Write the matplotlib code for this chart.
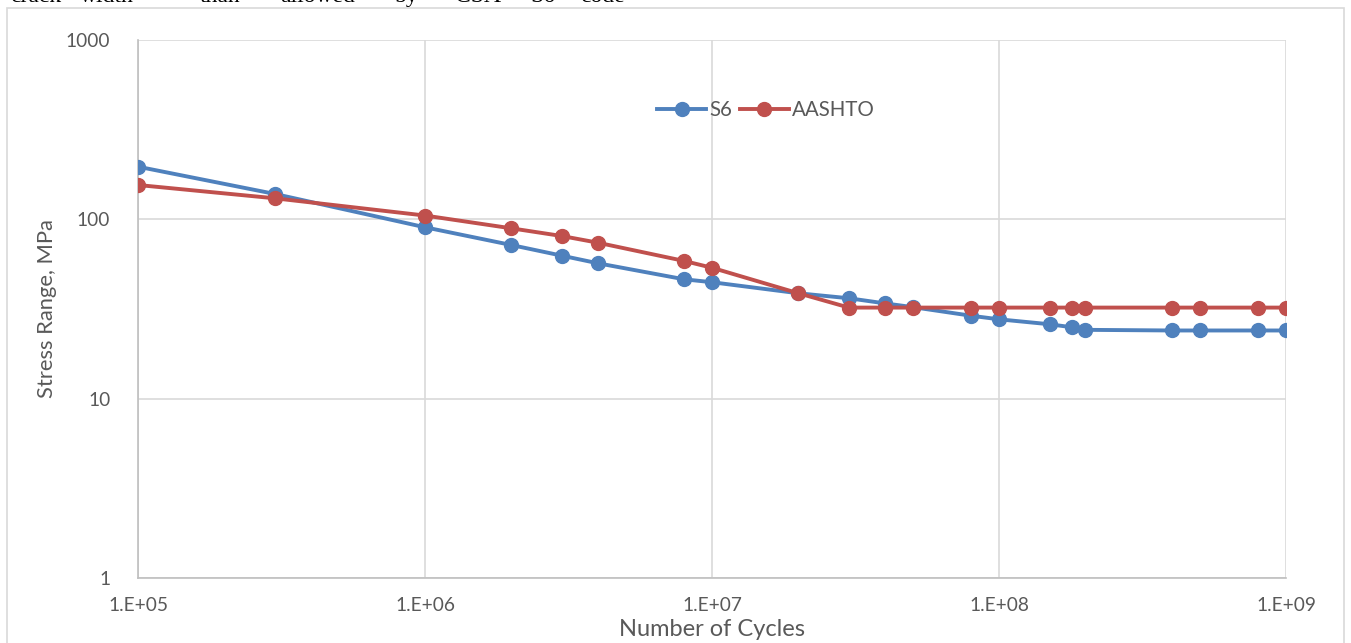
import matplotlib
matplotlib.use("Agg")
import matplotlib.pyplot as plt
from matplotlib.patches import Rectangle

cycles = [1e5, 3e5, 1e6, 2e6, 3e6, 4e6, 8e6, 1e7, 2e7, 3e7, 4e7, 5e7,
          8e7, 1e8, 1.5e8, 1.8e8, 2e8, 4e8, 5e8, 8e8, 1e9]
s6 = [196.6, 138.5, 90.3, 71.9, 62.7, 56.9, 46.3, 44.6, 38.7, 36.3, 34.0, 32.4,
      29.0, 27.7, 26.0, 25.0, 24.2, 24.0, 24.0, 24.0, 24.0]
aashto = [155.4, 131.0, 105.0, 89.1, 80.7, 74.1, 58.6, 53.7, 38.7, 32.2, 32.2, 32.2,
          32.2, 32.2, 32.2, 32.2, 32.2, 32.2, 32.2, 32.2, 32.2]
xticks = [1e5, 1e6, 1e7, 1e8, 1e9]
xticklabels = ["1.E+05", "1.E+06", "1.E+07", "1.E+08", "1.E+09"]
yticks = [1, 10, 100, 1000]
yticklabels = ["1", "10", "100", "1000"]

BLUE = "#4F81BD"
RED = "#C0504D"
TXT = "#595959"
FONT = ["Lato", "DejaVu Sans"]

W, H = 1351, 643
fig = plt.figure(figsize=(W / 100, H / 100), dpi=100)

# outer chart border
fig.patches.append(Rectangle((7 / W, -0.01), (1344 - 7) / W, (H - 8) / H + 0.01,
                             transform=fig.transFigure, fill=False,
                             edgecolor="#d9d9d9", linewidth=1.2))

# clipped document text at the top (cut off in the source as well)
words = ["crack", "width", "than", "allowed", "by", "CSA", "S6", "code"]
wx = [10, 80, 200, 280, 395, 455, 530, 580]
for w, x in zip(words, wx):
    fig.text(x / W, 1 - 2 / H, w, family="Liberation Serif", fontsize=17,
             ha="left", va="baseline", color="black")

ax = fig.add_axes([138 / W, 1 - 578 / H, (1286 - 138) / W, (578 - 40) / H])
ax.set_xscale("log")
ax.set_yscale("log")
ax.set_xlim(1e5, 1e9)
ax.set_ylim(1, 1000)

ax.plot(cycles, s6, color=BLUE, lw=2.8, marker="o", ms=10, label="S6",
        solid_joinstyle="round", zorder=3)
ax.plot(cycles, aashto, color=RED, lw=2.8, marker="o", ms=10, label="AASHTO",
        solid_joinstyle="round", zorder=4)

ax.set_xticks(xticks)
ax.set_xticklabels(xticklabels)
ax.set_yticks(yticks)
ax.set_yticklabels(yticklabels)
ax.minorticks_off()
ax.tick_params(axis="both", length=0, labelsize=13.8, labelcolor=TXT)
ax.tick_params(axis="x", pad=14)
ax.tick_params(axis="y", pad=20)
for lab in ax.get_xticklabels() + ax.get_yticklabels():
    lab.set_family(FONT)

ax.grid(True, which="major", color="#d9d9d9", lw=1.2)
ax.set_axisbelow(True)
for s in ["top", "right"]:
    ax.spines[s].set_visible(False)
for s in ["left", "bottom"]:
    ax.spines[s].set_color("#bfbfbf")
    ax.spines[s].set_linewidth(1.2)

ax.set_xlabel("Number of Cycles", family=FONT, fontsize=17, color=TXT, labelpad=3)
ax.set_ylabel("Stress Range, MPa", family=FONT, fontsize=15.8, color=TXT, labelpad=6)

leg = ax.legend(loc="center", bbox_to_anchor=((766 - 138) / (1286 - 138), (578 - 110) / 538),
                ncol=2, frameon=False, handlelength=2.4,
                handletextpad=0.15, columnspacing=0.35, prop={"family": FONT, "size": 14.8})
for t in leg.get_texts():
    t.set_color(TXT)

fig.savefig("out.png", dpi=100)
